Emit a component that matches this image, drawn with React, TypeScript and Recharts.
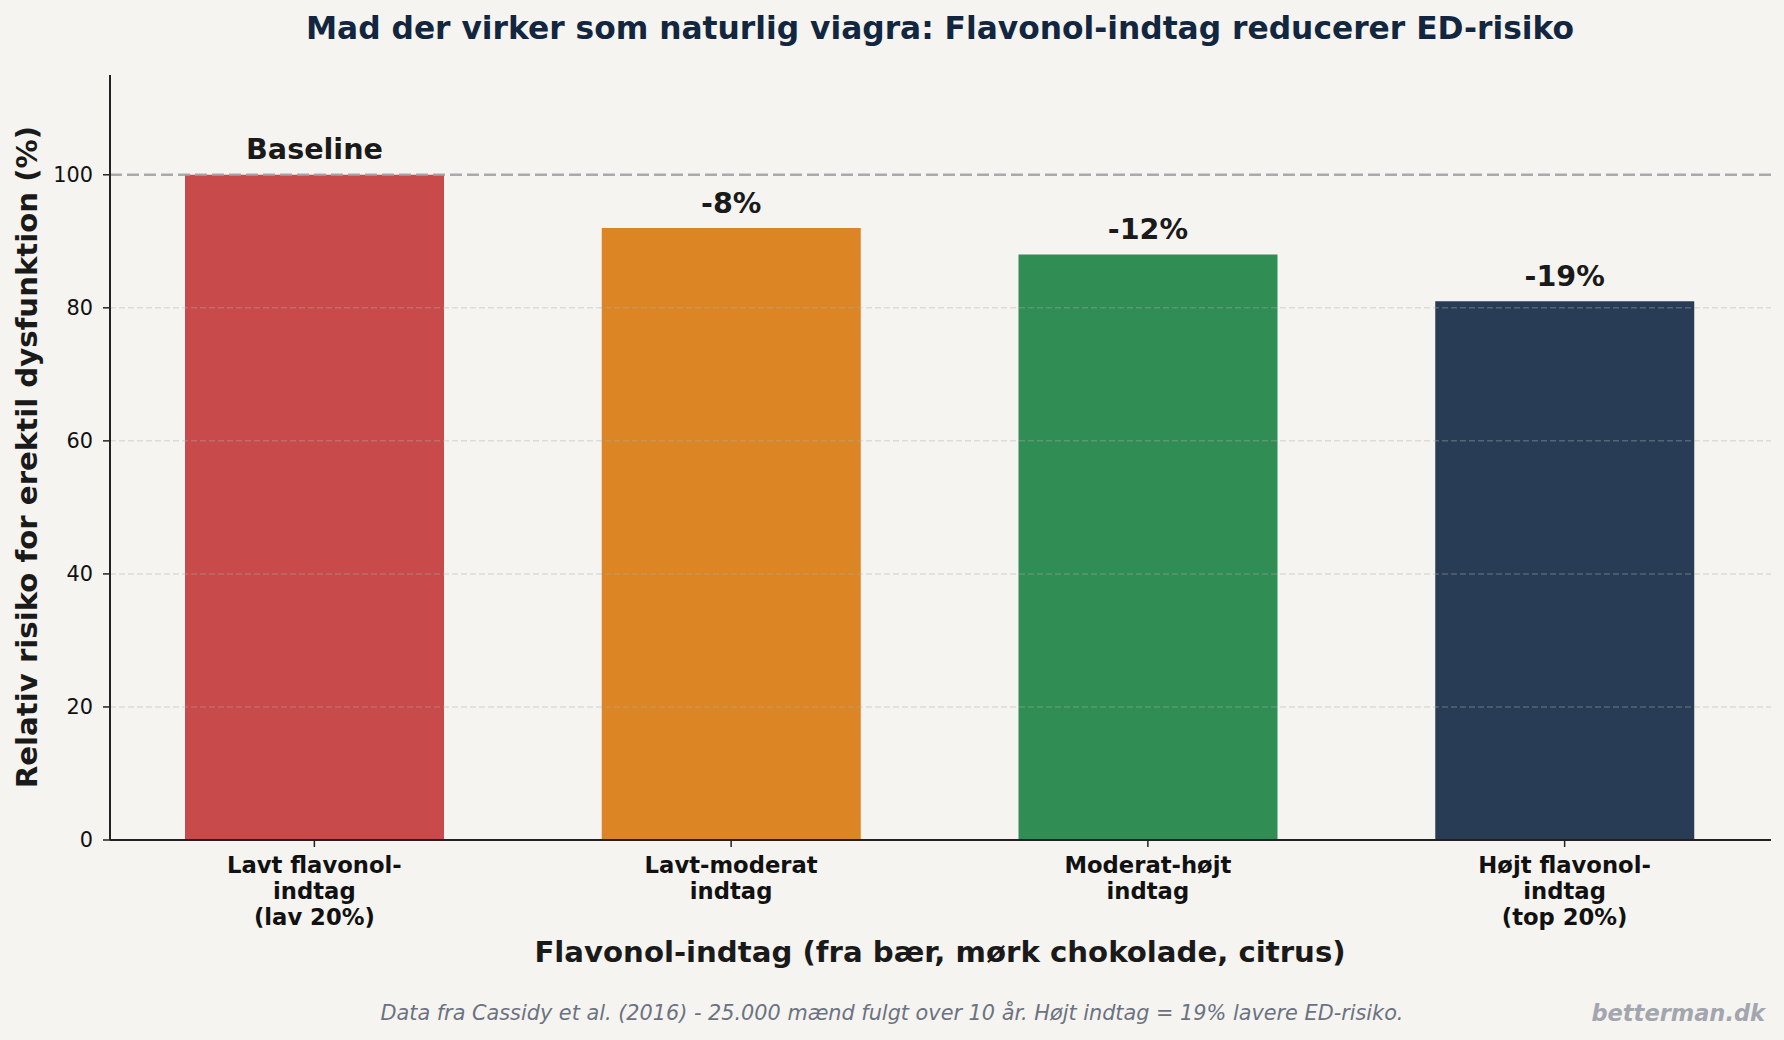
import { BarChart, Bar, XAxis, YAxis, Cell, LabelList, ReferenceLine } from 'recharts'

const CATEGORIES = [
  'Lavt flavonol-\nindtag\n(lav 20%)',
  'Lavt-moderat\nindtag',
  'Moderat-højt\nindtag',
  'Højt flavonol-\nindtag\n(top 20%)',
]
const RISK = [100, 92, 88, 81]
const COLORS = ['#c84a4a', '#db8524', '#308e54', '#283d55']
const Y_TICKS = [0, 20, 40, 60, 80, 100]
const GRID_TICKS = [20, 40, 60, 80]
const BASELINE = 100

const FONT = '"DejaVu Sans", sans-serif'
const W = 1784
const H = 1040

const data = CATEGORIES.map((name, i) => ({ name, risk: RISK[i] }))

// multi-line category labels under the x axis
const XTick = ({ x, y, payload }: any) => {
  const lines = String(payload.value).split('\n')
  return (
    <g>
      {lines.map((line, i) => (
        <text
          key={i}
          x={x}
          y={y + 18 + i * 26}
          textAnchor="middle"
          dominantBaseline="central"
          fontFamily={FONT}
          fontWeight="bold"
          fontSize={22.7}
          fill="#111"
        >
          {line}
        </text>
      ))}
    </g>
  )
}

// change vs. the lowest intake group, written above each bar
const BarLabel = ({ x, y, width, value }: any) => {
  const diff = Math.round(value - BASELINE)
  const text = diff === 0 ? 'Baseline' : `${diff}%`
  return (
    <text
      x={x + width / 2}
      y={y - 25.5}
      textAnchor="middle"
      dominantBaseline="central"
      fontFamily={FONT}
      fontWeight="bold"
      fontSize={28.6}
      fill="#1a1a1a"
    >
      {text}
    </text>
  )
}

export default function App() {
  return (
    <div
      style={{
        position: 'fixed',
        left: 0,
        top: 0,
        width: W,
        height: H,
        background: '#f5f4f0',
        fontFamily: FONT,
        overflow: 'hidden',
      }}
    >
      <BarChart width={W} height={H} data={data} margin={{ top: 75, right: 13, left: 0, bottom: 0 }}>
        <XAxis
          dataKey="name"
          height={200}
          padding={{ left: -4, right: -2 }}
          tick={<XTick />}
          tickSize={7}
          tickMargin={0}
          interval={0}
          axisLine={{ stroke: '#222', strokeWidth: 2 }}
          tickLine={{ stroke: '#222', strokeWidth: 1.5 }}
        />
        <YAxis
          width={110}
          domain={[0, 115]}
          ticks={Y_TICKS}
          allowDataOverflow
          tickSize={7}
          tickMargin={10}
          axisLine={{ stroke: '#222', strokeWidth: 2 }}
          tickLine={{ stroke: '#222', strokeWidth: 1.5 }}
          tick={{ fontFamily: FONT, fontSize: 20.8, fill: '#111' }}
        />
        <Bar dataKey="risk" barSize={259} isAnimationActive={false}>
          {data.map((d, i) => (
            <Cell key={d.name} fill={COLORS[i]} />
          ))}
          <LabelList dataKey="risk" content={<BarLabel />} />
        </Bar>
        {GRID_TICKS.map((t) => (
          <ReferenceLine key={t} y={t} stroke="#b0b0b0" strokeOpacity={0.35} strokeWidth={1.5} strokeDasharray="6 3" />
        ))}
        <ReferenceLine y={BASELINE} stroke="#9a9ca2" strokeOpacity={0.85} strokeWidth={2.5} strokeDasharray="12 5" />
      </BarChart>

      <div
        style={{
          position: 'absolute',
          left: 940,
          top: 28,
          transform: 'translate(-50%, -50%)',
          whiteSpace: 'nowrap',
          fontWeight: 'bold',
          fontSize: 31.3,
          color: '#12263f',
        }}
      >
        Mad der virker som naturlig viagra: Flavonol-indtag reducerer ED-risiko
      </div>

      <div
        style={{
          position: 'absolute',
          left: 27,
          top: 457,
          transform: 'translate(-50%, -50%) rotate(-90deg)',
          whiteSpace: 'nowrap',
          fontWeight: 'bold',
          fontSize: 29.2,
          color: '#1a1a1a',
        }}
      >
        Relativ risiko for erektil dysfunktion (%)
      </div>

      <div
        style={{
          position: 'absolute',
          left: 940,
          top: 952,
          transform: 'translate(-50%, -50%)',
          whiteSpace: 'nowrap',
          fontWeight: 'bold',
          fontSize: 29.2,
          color: '#1a1a1a',
        }}
      >
        Flavonol-indtag (fra bær, mørk chokolade, citrus)
      </div>

      <div
        style={{
          position: 'absolute',
          left: 892,
          top: 1013,
          transform: 'translate(-50%, -50%)',
          whiteSpace: 'nowrap',
          fontStyle: 'italic',
          fontSize: 20.8,
          color: '#6b7280',
        }}
      >
        Data fra Cassidy et al. (2016) - 25.000 mænd fulgt over 10 år. Højt indtag = 19% lavere ED-risiko.
      </div>

      <div
        style={{
          position: 'absolute',
          right: 19,
          top: 1013,
          transform: 'translateY(-50%)',
          whiteSpace: 'nowrap',
          fontStyle: 'italic',
          fontWeight: 'bold',
          fontSize: 22.5,
          color: '#a3a6ae',
        }}
      >
        betterman.dk
      </div>
    </div>
  )
}
